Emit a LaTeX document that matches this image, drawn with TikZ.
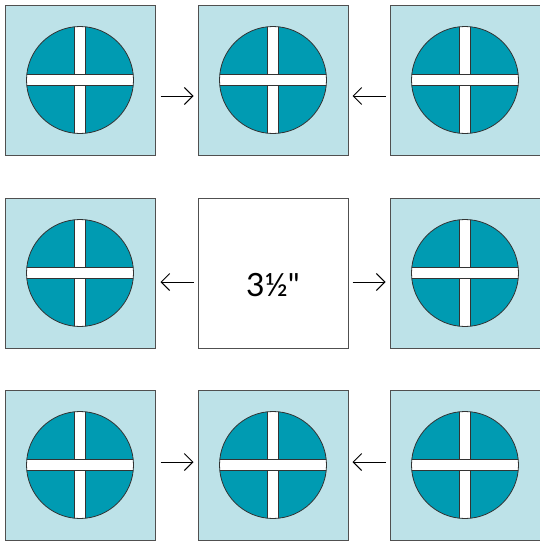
\documentclass[tikz,border=0pt]{standalone}
\usepackage{fontspec}
\setmainfont{Lato}[Ligatures=TeXOff]
\usepackage{tikz}
\usetikzlibrary{arrows.meta,shapes}

\definecolor{paleblue}{RGB}{189,226,232}
\definecolor{teal}{RGB}{0,155,178}
\definecolor{edge}{RGB}{80,80,80}

\tikzset{
  block/.style={draw=edge,line width=1bp,minimum size=150bp,inner sep=0pt},
  patch/.style={block,fill=paleblue},
  blank/.style={block,fill=white},
  arr/.style={-{Straight Barb[length=8.5bp,width=17bp]},line width=1bp},
  bar/.style={draw=black!80,line width=0.8bp,fill=white}
}

% circle with a white cross, centred on a node
\newcommand{\medallion}[1]{
  \begin{scope}
    \clip (#1.center) circle (53.5bp);
    \fill[teal] (#1.center) circle (53.5bp);
    \draw[bar] ([xshift=-5.8bp,yshift=-60bp]#1.center) rectangle ([xshift=5.8bp,yshift=60bp]#1.center);
    \draw[bar] ([xshift=-60bp,yshift=-5.6bp]#1.center) rectangle ([xshift=60bp,yshift=5.6bp]#1.center);
  \end{scope}
  \draw[black!80,line width=0.8bp] (#1.center) circle (53.5bp);
}

\begin{document}
\begin{tikzpicture}

\useasboundingbox (0bp,0bp) rectangle (540bp,-543bp);

\node (A1) at (80bp,-80bp)[patch] {};
\node (A2) at (273bp,-80bp)[patch] {};
\node (A3) at (465bp,-80bp)[patch] {};
\node (B1) at (80bp,-273bp)[patch] {};
\node (B2) at (273bp,-273bp)[blank] {};
\node (B3) at (465bp,-273bp)[patch] {};
\node (C1) at (80bp,-465bp)[patch] {};
\node (C2) at (273bp,-465bp)[patch] {};
\node (C3) at (465bp,-465bp)[patch] {};

\foreach \n in {A1,A2,A3,B1,B3,C1,C2,C3} {\medallion{\n}}

\node (size) at (273bp,-285bp) {\fontsize{32bp}{36bp}\selectfont 3½"};

\draw [arr] ([xshift=5bp,yshift=-16bp]A1.east) -- ([xshift=-4bp,yshift=-16bp]A2.west);
\draw [arr] ([xshift=-4bp,yshift=-16bp]A3.west) -- ([xshift=4bp,yshift=-16bp]A2.east);
\draw [arr] ([xshift=-4bp,yshift=-9bp]B2.west) -- ([xshift=5bp,yshift=-9bp]B1.east);
\draw [arr] ([xshift=4bp,yshift=-9bp]B2.east) -- ([xshift=-4bp,yshift=-9bp]B3.west);
\draw [arr] ([xshift=5bp,yshift=3bp]C1.east) -- ([xshift=-4bp,yshift=3bp]C2.west);
\draw [arr] ([xshift=-4bp,yshift=3bp]C3.west) -- ([xshift=4bp,yshift=3bp]C2.east);
\end{tikzpicture}
\end{document}
